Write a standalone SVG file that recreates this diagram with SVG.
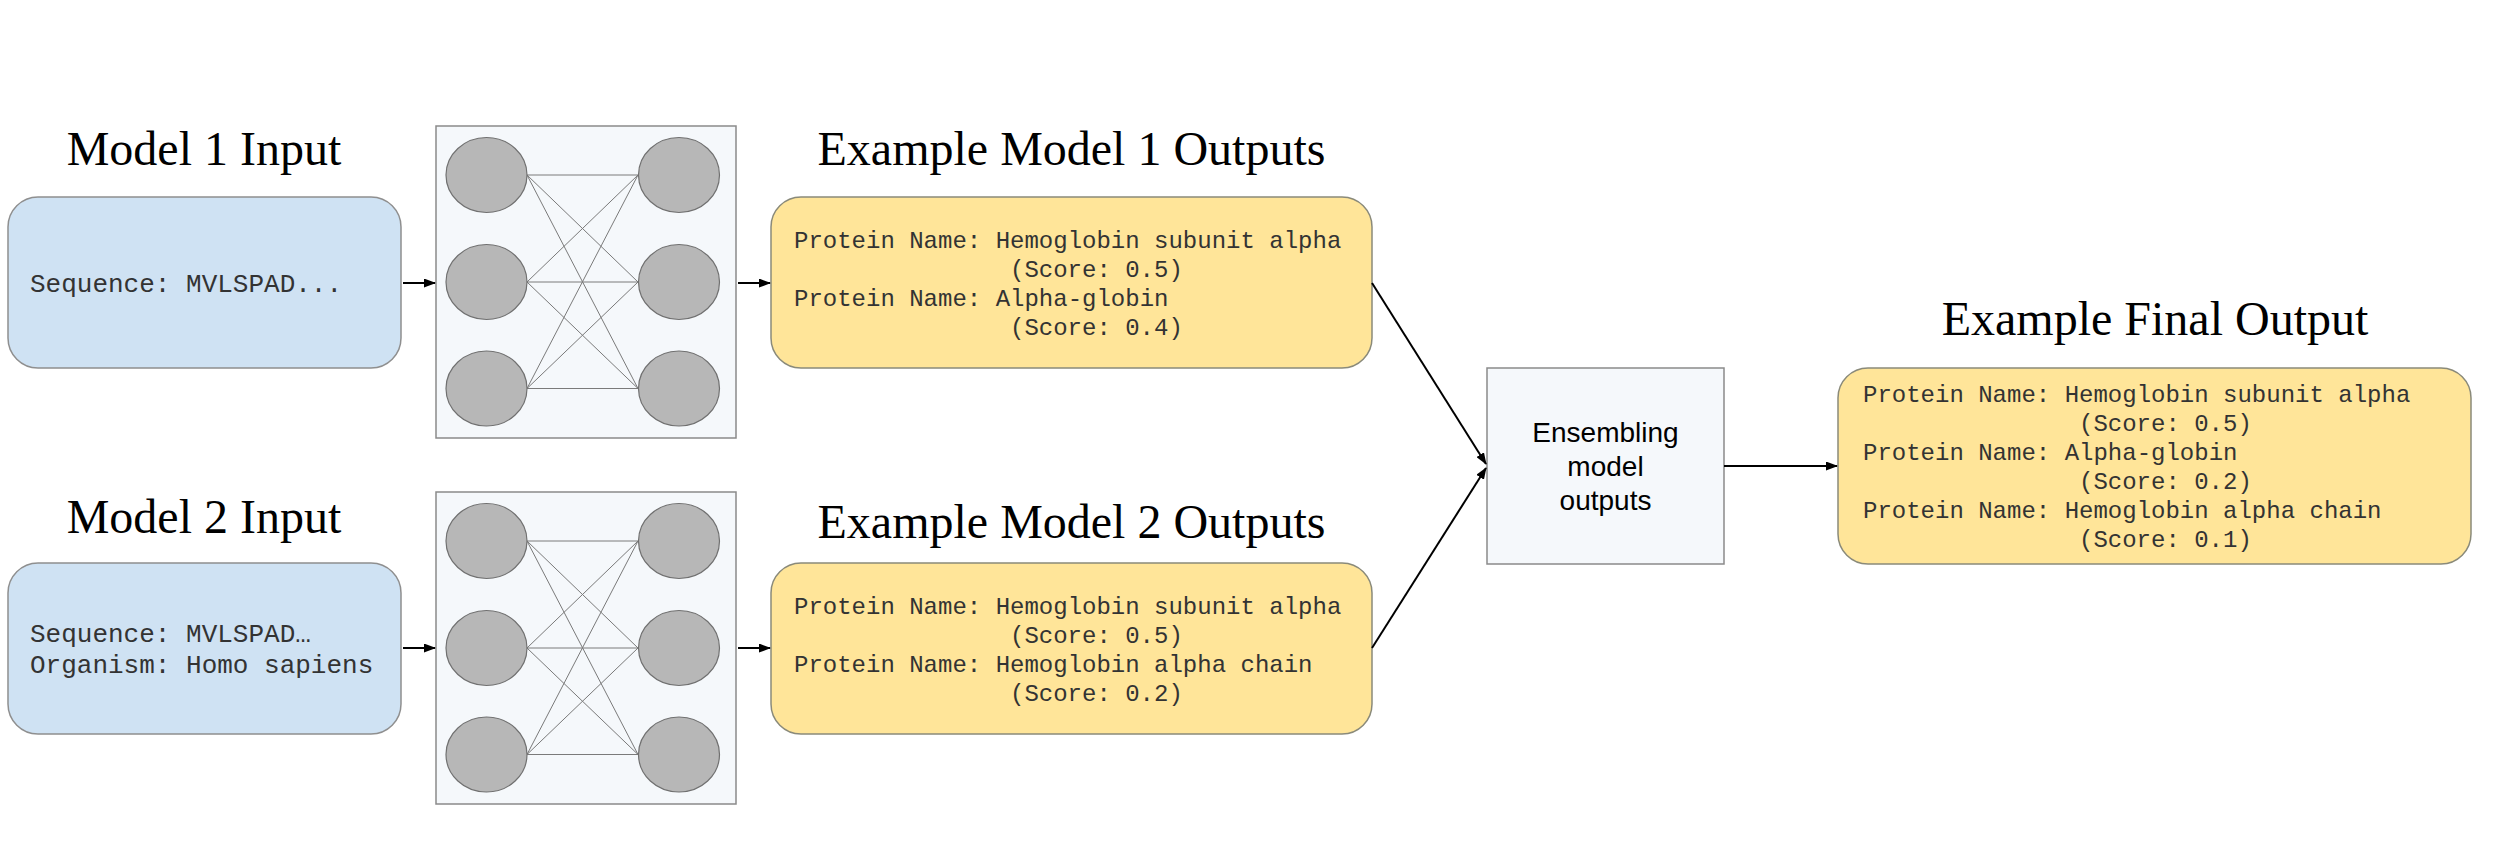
<svg xmlns="http://www.w3.org/2000/svg" width="2500" height="863" viewBox="0 0 2500 863">
<style>
.title{font-family:"Liberation Serif","Times New Roman",serif;font-size:48px;fill:#000;text-anchor:middle}
.mono{font-family:"Liberation Mono","Courier New",monospace;fill:#333}
.m26{font-size:26px}
.m24{font-size:24px}
.sans{font-family:"Liberation Sans",Arial,sans-serif;font-size:28px;fill:#000;text-anchor:middle}
.inbox{fill:#cfe2f3;stroke:#8f8f8f;stroke-width:1.5}
.outbox{fill:#ffe599;stroke:#8a8a7a;stroke-width:1.5}
.panel{fill:#f5f8fb;stroke:#8a8a8a;stroke-width:1.5}
.neuron{fill:#b7b7b7;stroke:#707070;stroke-width:1.2}
.syn{stroke:#7a7a7a;stroke-width:1;fill:none}
.arrow{stroke:#000;stroke-width:2;fill:none;marker-end:url(#ah)}
</style>
<defs>
<marker id="ah" markerUnits="userSpaceOnUse" markerWidth="12" markerHeight="9" refX="11" refY="4.5" orient="auto">
<path d="M0,0 L12,4.5 L0,9 z" fill="#000"/>
</marker>
<g id="nn">
<rect class="panel" x="436" y="0" width="300" height="312"/>
<g class="syn">
<line x1="527" y1="49" x2="638" y2="49"/><line x1="527" y1="49" x2="638" y2="156"/><line x1="527" y1="49" x2="638" y2="262.5"/>
<line x1="527" y1="156" x2="638" y2="49"/><line x1="527" y1="156" x2="638" y2="156"/><line x1="527" y1="156" x2="638" y2="262.5"/>
<line x1="527" y1="262.5" x2="638" y2="49"/><line x1="527" y1="262.5" x2="638" y2="156"/><line x1="527" y1="262.5" x2="638" y2="262.5"/>
</g>
<ellipse class="neuron" cx="486.5" cy="49" rx="40.5" ry="37.5"/>
<ellipse class="neuron" cx="486.5" cy="156" rx="40.5" ry="37.5"/>
<ellipse class="neuron" cx="486.5" cy="262.5" rx="40.5" ry="37.5"/>
<ellipse class="neuron" cx="679" cy="49" rx="40.5" ry="37.5"/>
<ellipse class="neuron" cx="679" cy="156" rx="40.5" ry="37.5"/>
<ellipse class="neuron" cx="679" cy="262.5" rx="40.5" ry="37.5"/>
</g>
</defs>

<g id="model1-input">
<text class="title" x="204" y="165">Model 1 Input</text>
<rect class="inbox" x="8" y="197" width="393" height="171" rx="30"/>
<text class="mono m26" x="30" y="292">Sequence: MVLSPAD...</text>
</g>

<g id="model1-net">
<use href="#nn" y="126"/>
</g>

<g id="model1-outputs">
<text class="title" x="1071.5" y="165">Example Model 1 Outputs</text>
<rect class="outbox" x="771" y="197" width="601" height="171" rx="30"/>
<text class="mono m24" x="794" y="248">Protein Name: Hemoglobin subunit alpha</text>
<text class="mono m24" x="1010" y="277">(Score: 0.5)</text>
<text class="mono m24" x="794" y="306">Protein Name: Alpha-globin</text>
<text class="mono m24" x="1010" y="335">(Score: 0.4)</text>
</g>

<g id="model2-input">
<text class="title" x="204" y="533">Model 2 Input</text>
<rect class="inbox" x="8" y="563" width="393" height="171" rx="30"/>
<text class="mono m26" x="30" y="642">Sequence: MVLSPAD…</text>
<text class="mono m26" x="30" y="673">Organism: Homo sapiens</text>
</g>

<g id="model2-net">
<use href="#nn" y="492"/>
</g>

<g id="model2-outputs">
<text class="title" x="1071.5" y="538">Example Model 2 Outputs</text>
<rect class="outbox" x="771" y="563" width="601" height="171" rx="30"/>
<text class="mono m24" x="794" y="614">Protein Name: Hemoglobin subunit alpha</text>
<text class="mono m24" x="1010" y="643">(Score: 0.5)</text>
<text class="mono m24" x="794" y="672">Protein Name: Hemoglobin alpha chain</text>
<text class="mono m24" x="1010" y="701">(Score: 0.2)</text>
</g>

<g id="ensemble">
<rect class="panel" x="1487" y="368" width="237" height="196"/>
<text class="sans" x="1605.5" y="442">Ensembling</text>
<text class="sans" x="1605.5" y="476">model</text>
<text class="sans" x="1605.5" y="510">outputs</text>
</g>

<g id="final-output">
<text class="title" x="2155" y="335">Example Final Output</text>
<rect class="outbox" x="1838" y="368" width="633" height="196" rx="30"/>
<text class="mono m24" x="1863" y="402">Protein Name: Hemoglobin subunit alpha</text>
<text class="mono m24" x="2079" y="431">(Score: 0.5)</text>
<text class="mono m24" x="1863" y="460">Protein Name: Alpha-globin</text>
<text class="mono m24" x="2079" y="489">(Score: 0.2)</text>
<text class="mono m24" x="1863" y="518">Protein Name: Hemoglobin alpha chain</text>
<text class="mono m24" x="2079" y="547">(Score: 0.1)</text>
</g>

<g id="connectors">
<line class="arrow" x1="403" y1="283" x2="435" y2="283"/>
<line class="arrow" x1="738" y1="283" x2="770" y2="283"/>
<line class="arrow" x1="403" y1="648" x2="435" y2="648"/>
<line class="arrow" x1="738" y1="648" x2="770" y2="648"/>
<line class="arrow" x1="1372" y1="283" x2="1486" y2="464"/>
<line class="arrow" x1="1372" y1="648" x2="1486" y2="468"/>
<line class="arrow" x1="1724" y1="466" x2="1837" y2="466"/>
</g>
</svg>
